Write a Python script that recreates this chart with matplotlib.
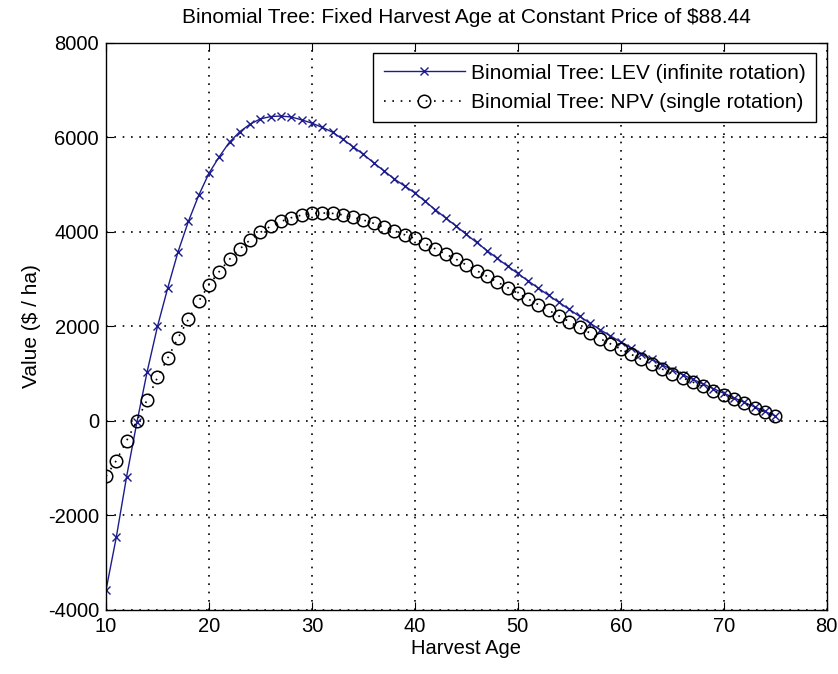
import matplotlib
matplotlib.use("Agg")
from matplotlib import pyplot as plt

plt.rcParams['font.family'] = ['Liberation Sans', 'DejaVu Sans']
plt.rcParams['axes.unicode_minus'] = False

ages = list(range(10, 76))

# land expectation value, infinite rotation ($/ha)
lev = [-3580, -2460, -1180, -30, 1045, 2000, 2815, 3580, 4220, 4770,
       5240, 5590, 5900, 6120, 6280, 6390, 6440, 6450, 6430, 6370,
       6300, 6210, 6110, 5960, 5800, 5640, 5460, 5290, 5120, 4970,
       4825, 4644, 4466, 4292, 4124, 3947, 3775, 3605, 3440, 3277,
       3119, 2962, 2808, 2656, 2506, 2359, 2213, 2070, 1928, 1798,
       1669, 1543, 1417, 1304, 1191, 1079, 979, 880, 781, 683,
       585, 488, 392, 296, 200, 105]

# net present value, single rotation ($/ha)
npv = [-1170, -840, -420, 0, 450, 920, 1330, 1760, 2150, 2530,
       2880, 3160, 3420, 3640, 3830, 3990, 4120, 4220, 4300, 4355,
       4390, 4400, 4390, 4360, 4310, 4250, 4180, 4100, 4020, 3940,
       3860, 3750, 3640, 3530, 3420, 3300, 3180, 3060, 2940, 2820,
       2700, 2580, 2460, 2340, 2220, 2100, 1980, 1860, 1740, 1630,
       1520, 1410, 1300, 1200, 1100, 1000, 910, 820, 730, 640,
       550, 460, 370, 280, 190, 100]

dots = (0, (1, 4))

fig = plt.figure(figsize=(8.38, 6.74), dpi=100)
ax = fig.add_axes([0.1265, 0.095, 0.86, 0.8415])

ax.plot(ages, lev, color='#1c1c8c', linewidth=1.0, marker='x', markersize=5.5,
        markeredgewidth=1.0, label='Binomial Tree: LEV (infinite rotation)')
ax.plot(ages, npv, color='black', linestyle=dots, linewidth=1.2, marker='o',
        markersize=9, markerfacecolor='none', markeredgewidth=1.1,
        label='Binomial Tree: NPV (single rotation)')

ax.set_xlim(10, 80)
ax.set_ylim(-4000, 8000)
ax.set_xticks(range(10, 81, 10))
ax.set_yticks(range(-4000, 8001, 2000))
ax.tick_params(direction='in', top=True, right=True, length=6, labelsize=14.5,
               width=0.8, pad=5)
ax.grid(True, color='black', linestyle=dots, linewidth=1.2)
for sp in ax.spines.values():
    sp.set_linewidth(1.0)

ax.set_xlabel('Harvest Age', fontsize=14.5, labelpad=2)
ax.set_ylabel('Value ($ / ha)', fontsize=15, labelpad=5)
ax.set_title('Binomial Tree: Fixed Harvest Age at Constant Price of $88.44',
             fontsize=15, pad=14)

leg = ax.legend(loc='upper right', fontsize=15, fancybox=False,
                framealpha=1, edgecolor='black', borderaxespad=0.5,
                handlelength=3.9, handletextpad=0.3, borderpad=0.5,
                labelspacing=0.5)
leg.get_frame().set_linewidth(1.0)

fig.savefig('out.png', dpi=100)
